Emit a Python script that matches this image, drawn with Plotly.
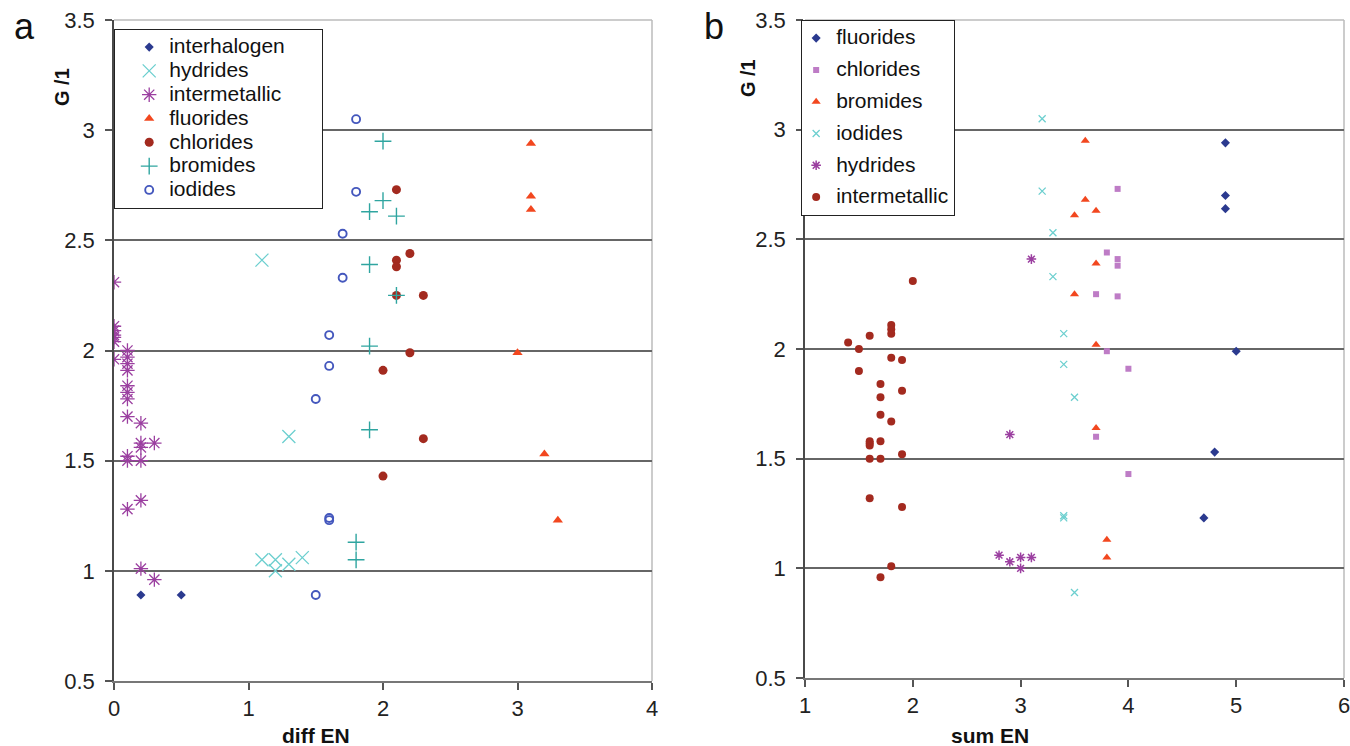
import plotly.graph_objects as go
from plotly.subplots import make_subplots

# ---------------- Panel a data (diff EN vs G/1) ----------------
a_interhalogen_x = [0.2, 0.5]
a_interhalogen_y = [0.89, 0.89]
a_hydrides_x = [1.1, 1.3, 1.1, 1.2, 1.2, 1.3, 1.4]
a_hydrides_y = [2.41, 1.61, 1.05, 1.05, 1.00, 1.03, 1.06]
a_intermetallic_x = [0, 0, 0, 0, 0, 0, 0,
                     0.1, 0.1, 0.1, 0.1, 0.1, 0.1, 0.1, 0.1, 0.1, 0.1, 0.1,
                     0.2, 0.2, 0.2, 0.2, 0.2, 0.2,
                     0.3, 0.3]
a_intermetallic_y = [2.31, 2.11, 2.09, 2.07, 2.06, 2.04, 1.96,
                     2.00, 1.97, 1.94, 1.91, 1.84, 1.81, 1.78, 1.70, 1.52, 1.50, 1.28,
                     1.67, 1.58, 1.56, 1.50, 1.32, 1.01,
                     1.58, 0.96]
a_fluorides_x = [3.1, 3.1, 3.1, 3.0, 3.2, 3.3]
a_fluorides_y = [2.94, 2.70, 2.64, 1.99, 1.53, 1.23]
a_chlorides_x = [2.1, 2.2, 2.1, 2.1, 2.1, 2.3, 2.2, 2.0, 2.3, 2.0]
a_chlorides_y = [2.73, 2.44, 2.41, 2.38, 2.25, 2.25, 1.99, 1.91, 1.60, 1.43]
a_bromides_x = [2.0, 2.0, 1.9, 2.1, 1.9, 2.1, 1.9, 1.9, 1.8, 1.8]
a_bromides_y = [2.95, 2.68, 2.63, 2.61, 2.39, 2.25, 2.02, 1.64, 1.13, 1.05]
a_iodides_x = [1.8, 1.8, 1.7, 1.7, 1.6, 1.6, 1.5, 1.6, 1.6, 1.5]
a_iodides_y = [3.05, 2.72, 2.53, 2.33, 2.07, 1.93, 1.78, 1.24, 1.23, 0.89]

# ---------------- Panel b data (sum EN vs G/1) ----------------
b_fluorides_x = [4.9, 4.9, 4.9, 5.0, 4.8, 4.7]
b_fluorides_y = [2.94, 2.70, 2.64, 1.99, 1.53, 1.23]
b_chlorides_x = [3.9, 3.8, 3.9, 3.9, 3.7, 3.9, 3.8, 4.0, 3.7, 4.0]
b_chlorides_y = [2.73, 2.44, 2.41, 2.38, 2.25, 2.24, 1.99, 1.91, 1.60, 1.43]
b_bromides_x = [3.6, 3.6, 3.5, 3.7, 3.7, 3.5, 3.7, 3.7, 3.8, 3.8]
b_bromides_y = [2.95, 2.68, 2.61, 2.63, 2.39, 2.25, 2.02, 1.64, 1.13, 1.05]
b_iodides_x = [3.2, 3.2, 3.3, 3.3, 3.4, 3.4, 3.5, 3.4, 3.4, 3.5]
b_iodides_y = [3.05, 2.72, 2.53, 2.33, 2.07, 1.93, 1.78, 1.24, 1.23, 0.89]
b_hydrides_x = [3.1, 2.9, 2.8, 2.9, 3.0, 3.0, 3.1]
b_hydrides_y = [2.41, 1.61, 1.06, 1.03, 1.05, 1.00, 1.05]
b_intermetallic_x = [1.4, 1.5, 1.6, 1.8, 1.8, 1.8, 2.0, 1.8, 1.9, 1.5, 1.7, 1.9, 1.7,
                     1.7, 1.8, 1.6, 1.6, 1.6, 1.7, 1.6, 1.7, 1.9, 1.6, 1.9, 1.8, 1.7]
b_intermetallic_y = [2.03, 2.00, 2.06, 2.11, 2.09, 2.07, 2.31, 1.96, 1.95, 1.90, 1.84, 1.81, 1.78,
                     1.70, 1.67, 1.58, 1.57, 1.56, 1.58, 1.50, 1.50, 1.52, 1.32, 1.28, 1.01, 0.96]

y_ticks = [0.5, 1, 1.5, 2, 2.5, 3, 3.5]
y_tick_labels = ["0.5", "1", "1.5", "2", "2.5", "3", "3.5"]
a_x_ticks = [0, 1, 2, 3, 4]
b_x_ticks = [1, 2, 3, 4, 5, 6]

NAVY = "#2B3A8F"
CYAN = "#6CCFCF"
PURPLE = "#9B3FA0"
ORANGE = "#F2471F"
DARKRED = "#A32A1F"
TEAL = "#2FA5A0"
BLUE = "#4457BD"
PINK = "#BE7CC6"

FONT = "Liberation Sans, Arial, sans-serif"

fig = make_subplots(rows=1, cols=2, horizontal_spacing=0.05)


def lbl(name, pad=""):
    return '<span style="font-size:21px">' + name + '</span>' + pad


def add(x, y, name, col, symbol, color, size, legend, lw=1.2, group=None):
    fig.add_trace(go.Scatter(
        x=x, y=y, mode="markers", name=name, legend=legend,
        legendgroup=group,
        marker=dict(symbol=symbol, color=color, size=size,
                    line=dict(color=color, width=lw)),
        showlegend=True,
    ), row=1, col=col)


PAD = "&nbsp;" * 7

# panel a
add(a_interhalogen_x, a_interhalogen_y, lbl("interhalogen", PAD), 1, "diamond", NAVY, 7, "legend", 0)
add(a_hydrides_x, a_hydrides_y, lbl("hydrides"), 1, "x-thin-open", CYAN, 13, "legend", 1.3)
add(a_intermetallic_x, a_intermetallic_y, lbl("intermetallic"), 1, "asterisk-open", PURPLE, 12, "legend", 1.3)
add(a_fluorides_x, a_fluorides_y, lbl("fluorides"), 1, "triangle-up", ORANGE, 9, "legend", 0)
add(a_chlorides_x, a_chlorides_y, lbl("chlorides"), 1, "circle", DARKRED, 9, "legend", 0)
add(a_bromides_x, a_bromides_y, lbl("bromides"), 1, "cross-thin-open", TEAL, 12, "legend", 1.4)
add(a_iodides_x, a_iodides_y, lbl("iodides"), 1, "circle-open", BLUE, 8, "legend", 1.9)

# panel b
add(b_fluorides_x, b_fluorides_y, lbl("fluorides"), 2, "diamond", NAVY, 7, "legend2", 0, "b1")
add(b_chlorides_x, b_chlorides_y, lbl("chlorides"), 2, "square", PINK, 6, "legend2", 0, "b2")
add(b_bromides_x, b_bromides_y, lbl("bromides"), 2, "triangle-up", ORANGE, 8, "legend2", 0, "b3")
add(b_iodides_x, b_iodides_y, lbl("iodides"), 2, "x-thin-open", CYAN, 7, "legend2", 1.3, "b4")
add(b_hydrides_x, b_hydrides_y, lbl("hydrides"), 2, "asterisk-open", PURPLE, 8, "legend2", 1.5, "b5")
add(b_intermetallic_x, b_intermetallic_y, lbl("intermetallic"), 2, "circle", DARKRED, 8, "legend2", 0, "b6")

axis_common = dict(
    showgrid=False, zeroline=False, showline=True, linecolor="#777777", linewidth=1.5,
    ticks="outside", ticklen=7, tickcolor="#555555", tickwidth=1.5, automargin=False,
    ticklabeloverflow="allow",
    tickfont=dict(family=FONT, size=22, color="#222222"),
)

fig.update_xaxes(**axis_common)
fig.update_yaxes(**axis_common)

fig.update_xaxes(range=[0, 4], tickvals=a_x_ticks, domain=[0, 0.4374], row=1, col=1)
fig.update_xaxes(range=[1, 6], tickvals=b_x_ticks, domain=[0.5618, 1.0], row=1, col=2)
for c in (1, 2):
    fig.update_yaxes(range=[0.5, 3.5], tickvals=y_ticks, ticktext=y_tick_labels,
                     showgrid=True, gridcolor="#666666", gridwidth=1.8,
                     linecolor="#4A4A4A", ticklabelstandoff=6, row=1, col=c)
fig.update_yaxes(domain=[0, 1], row=1, col=1)
fig.update_yaxes(domain=[0.0045, 1], row=1, col=2)

shapes = []
for xr, yr in (("x domain", "y domain"), ("x2 domain", "y2 domain")):
    shapes.append(dict(type="line", xref=xr, yref=yr, x0=0, x1=1, y0=1, y1=1,
                       line=dict(color="#BBBBBB", width=1.5), layer="below"))
    shapes.append(dict(type="line", xref=xr, yref=yr, x0=1, x1=1, y0=0, y1=1,
                       line=dict(color="#BBBBBB", width=1.5), layer="below"))


def ann(text, x, y, size, angle=0):
    return dict(text=text, x=x, y=y, xref="paper", yref="paper", showarrow=False,
                xanchor="center", yanchor="middle", textangle=angle,
                font=dict(family=FONT, size=size, color="#111111"))


annotations = [
    ann("a", -0.0724, 0.990, 36),
    ann("b", 0.4878, 0.990, 36),
    ann("<b>G /1</b>", -0.0423, 0.8986, 20, -90),
    ann("<b>G /1</b>", 0.5154, 0.912, 20, -90),
    ann("<b>diff EN</b>", 0.1642, -0.0817, 21),
    ann("<b>sum EN</b>", 0.7122, -0.0817, 21),
]

fig.update_layout(
    width=1350, height=746,
    margin=dict(l=114, r=6, t=20, b=65, autoexpand=False),
    paper_bgcolor="white", plot_bgcolor="white",
    font=dict(family=FONT, size=20, color="#111111"),
    shapes=shapes, annotations=annotations,
    legend=dict(x=0, y=0.9864, xanchor="left", yanchor="top",
                bgcolor="white", bordercolor="#222222", borderwidth=1.2,
                font=dict(family=FONT, size=16, color="#111111"),
                itemwidth=30, indentation=14, tracegroupgap=0),
    legend2=dict(x=0.5585, y=1.0, xanchor="left", yanchor="top",
                 bgcolor="white", bordercolor="#222222", borderwidth=1.2,
                 font=dict(family=FONT, size=16, color="#111111"),
                 itemwidth=30, indentation=-6, tracegroupgap=8),
)

# remove the page's default 8px body margin so the figure fills the window exactly
fig.write_html("out.html",
               config={"displayModeBar": False},
               post_script="document.body.style.margin='0';document.body.style.overflow='hidden';")
